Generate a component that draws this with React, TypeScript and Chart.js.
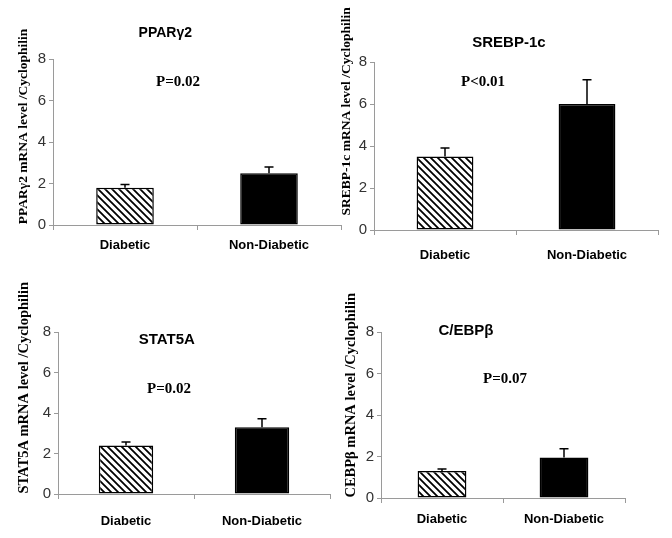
import React, { useEffect, useRef } from "react";
import { Chart, registerables } from "chart.js";

Chart.register(...registerables);

// ---------- DATA ----------
const categories = ["Diabetic", "Non-Diabetic"];
const yTickValues = [0, 2, 4, 6, 8];

const pparValues = [1.8, 2.5];
const pparErrors = [0.15, 0.3];

const srebpValues = [3.5, 6.0];
const srebpErrors = [0.4, 1.15];

const stat5aValues = [2.4, 3.3];
const stat5aErrors = [0.17, 0.42];

const cebpValues = [1.3, 1.95];
const cebpErrors = [0.1, 0.42];

const panelTitles = ["PPARγ2", "SREBP-1c", "STAT5A", "C/EBPβ"];
const pValues = ["P=0.02", "P<0.01", "P=0.02", "P=0.07"];
const yTitles = [
  "PPARγ2 mRNA level /Cyclophilin",
  "SREBP-1c mRNA level /Cyclophilin",
  "STAT5A mRNA level /Cyclophilin",
  "CEBPβ mRNA level /Cyclophilin",
];

// ---------- LAYOUT (page px) ----------
type Panel = {
  values: number[];
  errors: number[];
  title: string;
  p: string;
  yTitle: string;
  canvas: [number, number, number, number];
  area: [number, number, number, number]; // L, T, R, B
  titlePos: [number, number]; // fx, y-value
  pPos: [number, number];
  yTitleX: number; // offset from chart left
  yTitleY: number; // value
  yTitleSize: number;
  titleSize: number;
  catPad: number;
};

const panels: Panel[] = [
  {
    values: pparValues, errors: pparErrors, title: panelTitles[0], p: pValues[0], yTitle: yTitles[0],
    canvas: [0, 0, 348, 269], area: [53, 59, 341, 225],
    titlePos: [0.39, 9.25], pPos: [0.434, 6.9], yTitleX: -29, yTitleY: 4.75, yTitleSize: 13.5, titleSize: 14, catPad: 8,
  },
  {
    values: srebpValues, errors: srebpErrors, title: panelTitles[1], p: pValues[1], yTitle: yTitles[1],
    canvas: [336, 0, 336, 269], area: [374, 62, 658, 230],
    titlePos: [0.475, 8.9], pPos: [0.384, 7.05], yTitleX: -27, yTitleY: 5.65, yTitleSize: 13.5, titleSize: 15, catPad: 13,
  },
  {
    values: stat5aValues, errors: stat5aErrors, title: panelTitles[2], p: pValues[2], yTitle: yTitles[2],
    canvas: [0, 269, 336, 269], area: [58, 332, 330, 494],
    titlePos: [0.40, 7.6], pPos: [0.408, 5.19], yTitleX: -34, yTitleY: 5.25, yTitleSize: 14.5, titleSize: 15, catPad: 15,
  },
  {
    values: cebpValues, errors: cebpErrors, title: panelTitles[3], p: pValues[3], yTitle: yTitles[3],
    canvas: [336, 269, 336, 269], area: [381, 332, 625, 498],
    titlePos: [0.348, 8.05], pPos: [0.508, 5.73], yTitleX: -30, yTitleY: 4.95, yTitleSize: 14.5, titleSize: 15, catPad: 9,
  },
];

const Y_AXIS_W = 30;
const X_AXIS_H = 35;
const SANS = "'Liberation Sans', Arial, sans-serif";
const SERIF = "'Liberation Serif', 'Times New Roman', serif";

function makeHatch(): CanvasPattern | string {
  const c = document.createElement("canvas");
  c.width = 7;
  c.height = 7;
  const g = c.getContext("2d");
  if (!g) return "#fff";
  g.fillStyle = "#fff";
  g.fillRect(0, 0, 7, 7);
  g.strokeStyle = "#000";
  g.lineWidth = 1.8;
  g.beginPath();
  g.moveTo(-1, -1);
  g.lineTo(8, 8);
  g.moveTo(-1, 6);
  g.lineTo(1, 8);
  g.moveTo(6, -1);
  g.lineTo(8, 1);
  g.stroke();
  return g.createPattern(c, "repeat") || "#fff";
}

function PanelChart({ panel }: { panel: Panel }) {
  const ref = useRef<HTMLCanvasElement | null>(null);
  useEffect(() => {
    if (!ref.current) return;
    const [cx, cy, cw, ch] = panel.canvas;
    const [L, T, R, B] = panel.area;

    const errorBars = {
      id: "errorBars",
      afterDatasetsDraw(chart: any) {
        const ctx = chart.ctx;
        const meta = chart.getDatasetMeta(0);
        const ys = chart.scales.y;
        ctx.save();
        ctx.strokeStyle = "#000";
        ctx.lineWidth = 1.5;
        meta.data.forEach((el: any, i: number) => {
          const top = ys.getPixelForValue(panel.values[i] + panel.errors[i]);
          ctx.beginPath();
          ctx.moveTo(el.x, el.y);
          ctx.lineTo(el.x, top);
          ctx.moveTo(el.x - 4.5, top);
          ctx.lineTo(el.x + 4.5, top);
          ctx.stroke();
        });
        ctx.restore();
      },
    };

    const notes = {
      id: "notes",
      afterDraw(chart: any) {
        const ctx = chart.ctx;
        const a = chart.chartArea;
        const ys = chart.scales.y;
        ctx.save();
        ctx.fillStyle = "#000";
        ctx.textAlign = "center";
        ctx.textBaseline = "middle";
        ctx.font = `bold ${panel.titleSize}px ${SANS}`;
        ctx.fillText(panel.title, a.left + panel.titlePos[0] * (a.right - a.left), ys.getPixelForValue(panel.titlePos[1]));
        ctx.font = `bold 15px ${SERIF}`;
        ctx.fillText(panel.p, a.left + panel.pPos[0] * (a.right - a.left), ys.getPixelForValue(panel.pPos[1]));
        ctx.translate(a.left + panel.yTitleX, ys.getPixelForValue(panel.yTitleY));
        ctx.rotate(-Math.PI / 2);
        ctx.font = `bold ${panel.yTitleSize}px ${SERIF}`;
        ctx.fillText(panel.yTitle, 0, 0);
        ctx.restore();
      },
    };

    const chart = new Chart(ref.current, {
      type: "bar",
      data: {
        labels: categories,
        datasets: [
          {
            data: panel.values,
            backgroundColor: [makeHatch() as any, "#000"],
            borderColor: "#000",
            borderWidth: 1.5,
            borderSkipped: false,
            barPercentage: 0.4,
            categoryPercentage: 1,
          },
        ],
      },
      options: {
        animation: false,
        responsive: false,
        devicePixelRatio: 1,
        layout: {
          padding: {
            left: L - cx - Y_AXIS_W,
            top: T - cy,
            right: cx + cw - R,
            bottom: cy + ch - B - X_AXIS_H,
          },
        },
        plugins: { legend: { display: false }, tooltip: { enabled: false }, title: { display: false } },
        scales: {
          x: {
            offset: true,
            grid: { display: true, drawOnChartArea: false, drawTicks: true, tickLength: 5, color: "#9a9a9a", offset: true },
            border: { display: true, color: "#9a9a9a", width: 1 },
            ticks: { color: "#000", font: { family: SANS, size: 13, weight: "bold" }, padding: panel.catPad },
            afterFit: (s: any) => { s.height = X_AXIS_H; },
          },
          y: {
            min: 0,
            max: 8,
            afterBuildTicks: (s: any) => { s.ticks = yTickValues.map((v) => ({ value: v })); },
            grid: { display: true, drawOnChartArea: false, drawTicks: true, tickLength: 4, color: "#9a9a9a" },
            border: { display: true, color: "#9a9a9a", width: 1 },
            ticks: { color: "#333", font: { family: SANS, size: 15 }, padding: 3 },
            afterFit: (s: any) => { s.width = Y_AXIS_W; },
          },
        },
      },
      plugins: [errorBars, notes],
    });
    return () => chart.destroy();
  }, [panel]);

  const [cx, cy, cw, ch] = panel.canvas;
  return (
    <canvas
      ref={ref}
      width={cw}
      height={ch}
      style={{ position: "absolute", left: cx, top: cy, width: cw, height: ch }}
    />
  );
}

export default function App() {
  return (
    <div style={{ position: "absolute", left: 0, top: 0, width: 672, height: 538, background: "#fff", overflow: "hidden" }}>
      {panels.map((p, i) => (
        <PanelChart key={i} panel={p} />
      ))}
    </div>
  );
}
